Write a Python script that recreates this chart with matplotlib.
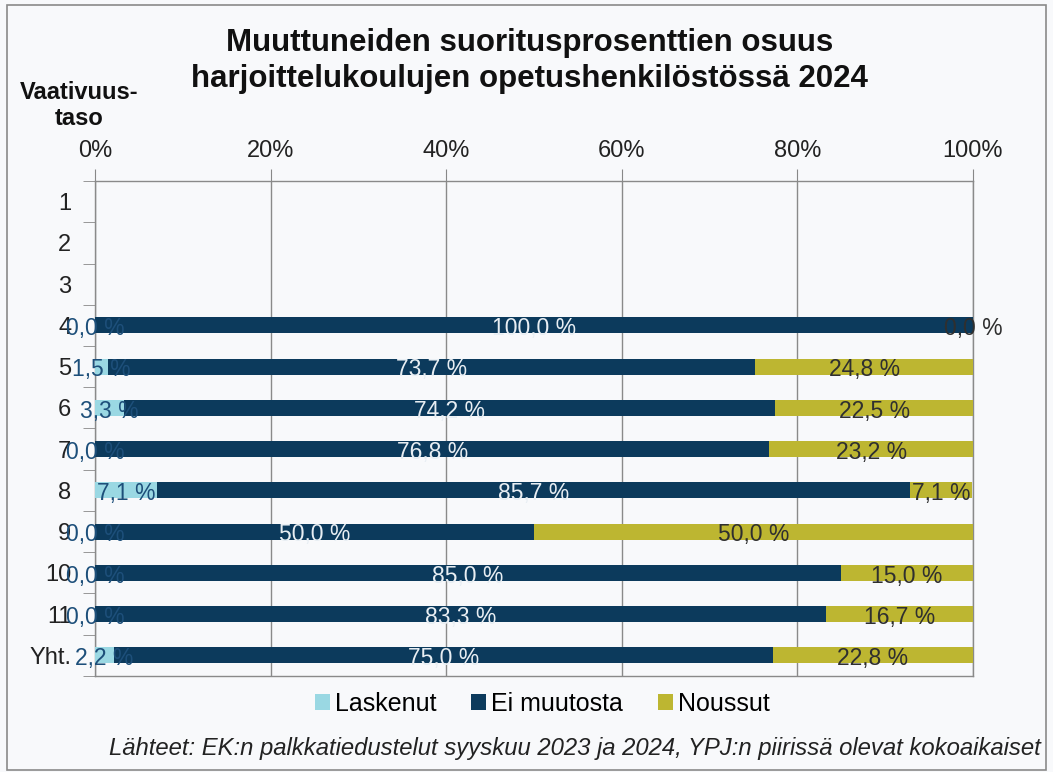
import matplotlib
matplotlib.use("Agg")
import matplotlib.pyplot as plt
import numpy as np
from matplotlib.patches import Rectangle

plt.rcParams['font.family'] = ['Liberation Sans', 'DejaVu Sans']

categories = ["1", "2", "3", "4", "5", "6", "7", "8", "9", "10", "11", "Yht."]
laskenut = [np.nan, np.nan, np.nan, 0.0, 1.5, 3.3, 0.0, 7.1, 0.0, 0.0, 0.0, 2.2]
ei_muutosta = [np.nan, np.nan, np.nan, 100.0, 73.7, 74.2, 76.8, 85.7, 50.0, 85.0, 83.3, 75.0]
noussut = [np.nan, np.nan, np.nan, 0.0, 24.8, 22.5, 23.2, 7.1, 50.0, 15.0, 16.7, 22.8]
series_names = ["Laskenut", "Ei muutosta", "Noussut"]
x_ticks = [0, 20, 40, 60, 80, 100]
x_ticklabels = ["0%", "20%", "40%", "60%", "80%", "100%"]

colors = ["#9ad8e3", "#0c3a5c", "#bdb631"]
label_colors = ["#1d4f7a", "#e8eef3", "#2f2f2f"]

fig = plt.figure(figsize=(10.53, 7.72), dpi=100)
bg = "#f8f9fb"
fig.patch.set_facecolor(bg)
fig.add_artist(Rectangle((0.007, 0.003), 0.986, 0.99, transform=fig.transFigure,
                         fill=False, edgecolor="#8a8a8a", linewidth=1.2))

ax = fig.add_axes([0.0902, 0.1244, 0.8338, 0.6411])
ax.set_facecolor(bg)

y = np.arange(len(categories))
data = [np.array(laskenut), np.array(ei_muutosta), np.array(noussut)]
left = np.zeros(len(categories))
for vals, c, lc, name in zip(data, colors, label_colors, series_names):
    v = np.nan_to_num(vals)
    ax.barh(y, v, left=left, height=0.39, color=c, label=name, zorder=3)
    for i in range(len(categories)):
        if not np.isnan(vals[i]):
            txt = f"{vals[i]:.1f} %".replace(".", ",")
            ax.text(left[i] + v[i] / 2, y[i] + 0.08, txt, ha="center", va="center",
                    fontsize=16.5, color=lc, zorder=4)
    left = left + v

ax.set_xlim(0, 100)
ax.set_ylim(len(categories) - 0.5, -0.5)
ax.xaxis.tick_top()
ax.set_xticks(x_ticks)
ax.set_xticklabels(x_ticklabels, fontsize=17, color="#222222")
ax.tick_params(axis="x", length=9, color="#888888", pad=5)
ax.set_yticks(y)
ax.set_yticklabels(categories, fontsize=17, color="#222222")
ax.set_yticks(np.arange(-0.5, len(categories), 1), minor=True)
ax.tick_params(axis="y", which="major", length=0, pad=17)
ax.tick_params(axis="y", which="minor", length=9, color="#888888")
ax.grid(axis="x", color="#8a8a8a", linewidth=1, zorder=0)
for s in ax.spines.values():
    s.set_color("#8a8a8a")
    s.set_linewidth(1)

fig.text(0.503, 0.921, "Muuttuneiden suoritusprosenttien osuus\nharjoittelukoulujen opetushenkilöstössä 2024",
         ha="center", va="center", fontsize=22.5, fontweight="bold", color="#111111", linespacing=1.22)
fig.text(0.075, 0.863, "Vaativuus-\ntaso", ha="center", va="center", fontsize=17,
         fontweight="bold", color="#111111", linespacing=1.15)

handles, labels = ax.get_legend_handles_labels()
fig.legend(handles, labels, loc="center", bbox_to_anchor=(0.515, 0.088), ncol=3, frameon=False,
           fontsize=18, handlelength=0.6, handleheight=0.6, handletextpad=0.2, columnspacing=1.4)

fig.text(0.988, 0.031, "Lähteet: EK:n palkkatiedustelut syyskuu 2023 ja 2024, YPJ:n piirissä olevat kokoaikaiset",
         ha="right", va="center", fontsize=17.2, style="italic", color="#222222")

fig.savefig("out.png", dpi=100, facecolor=bg)
